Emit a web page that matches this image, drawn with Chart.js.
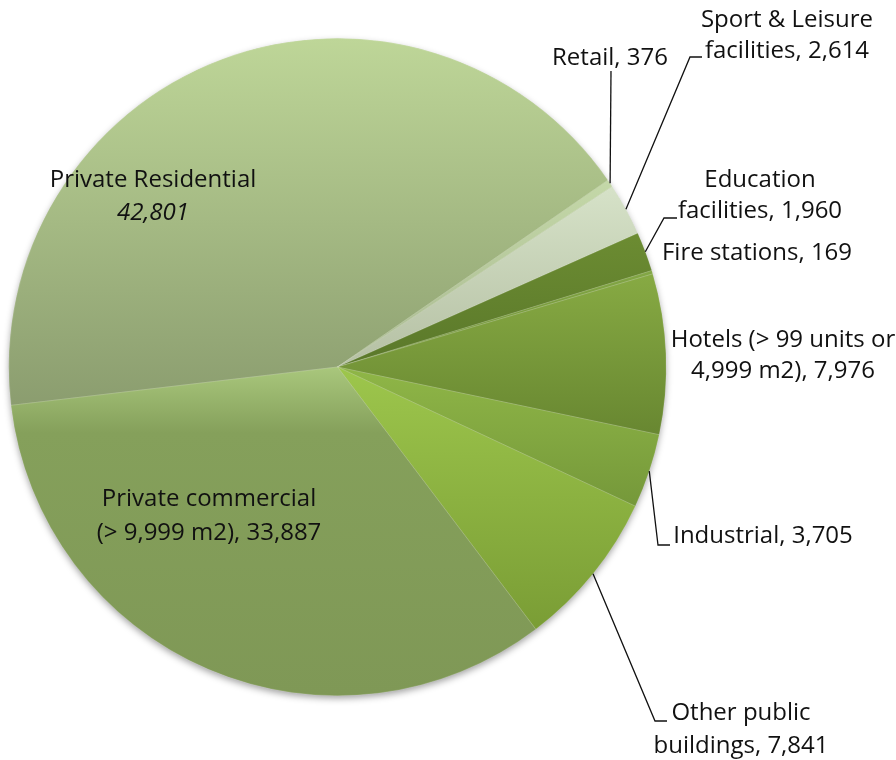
<!DOCTYPE html>
<html>
<head>
<meta charset="utf-8">
<script src="https://cdn.jsdelivr.net/npm/chart.js@4/dist/chart.umd.min.js"></script>
<style>
  html, body { margin: 0; padding: 0; background: #ffffff; }
  #wrap { width: 896px; height: 760px; }
</style>
</head>
<body>
<div id="wrap"><canvas id="chart" width="896" height="760"></canvas></div>
<script>
// Building floor area by type (values in m2, thousands)
const categories = [
  'Private Residential',
  'Retail',
  'Sport & Leisure facilities',
  'Education facilities',
  'Fire stations',
  'Hotels (> 99 units or 4,999 m2)',
  'Industrial',
  'Other public buildings',
  'Private commercial (> 9,999 m2)'
];
const floorArea = [42801, 376, 2614, 1960, 169, 7976, 3705, 7841, 33887];

// How each category name is broken over lines in its label
const nameLines = [
  ['Private Residential'],
  ['Retail'],
  ['Sport & Leisure', 'facilities'],
  ['Education', 'facilities'],
  ['Fire stations'],
  ['Hotels (> 99 units or', '4,999 m2)'],
  ['Industrial'],
  ['Other public', 'buildings'],
  ['Private commercial', '(> 9,999 m2)']
];

// Vertical gradient of each slice: [top colour, bottom colour]
const sliceTop    = ['#bed698', '#c4d8a8', '#d6e2c8', '#6c8c32', '#82a645', '#87aa43', '#8fb647', '#9dc64c', '#a9c77c'];
const sliceBottom = ['#8b9d6f', '#a9b991', '#b5c0a4', '#5a782a', '#6f9036', '#688731', '#75983a', '#7a9d35', '#7f9856'];

// Label placement: centre x, first baseline, line step, leader line points (pie end is added from the slice)
const labelLayout = [
  { x: 153, y: 187, step: 33, valueOwnLine: true },
  { x: 610, y: 65,  step: 31, leader: [[611, 71]] },
  { x: 787, y: 27,  step: 31, leader: [[690, 57], [702, 57]] },
  { x: 760, y: 187, step: 31, leader: [[664, 218], [677, 218]] },
  { x: 757, y: 260, step: 31 },
  { x: 783, y: 347, step: 31 },
  { x: 763, y: 543, step: 31, leader: [[658, 545], [670, 545]] },
  { x: 741, y: 720, step: 33, leader: [[655, 721], [667, 721]] },
  { x: 209, y: 506, step: 34 }
];

const FONT = '"Open Sans", "Noto Sans", sans-serif';
const FONT_SIZE = 24;
const fmt = v => v.toLocaleString('en-US');

// Soft drop shadow under the pie plus per-slice vertical gradients
const shadeSlices = {
  id: 'shadeSlices',
  beforeDatasetsDraw(chart) {
    const ctx = chart.ctx;
    const arcs = chart.getDatasetMeta(0).data;
    if (!arcs.length) return;
    const a0 = arcs[0];
    ctx.save();
    ctx.shadowColor = 'rgba(0,0,0,0.38)';
    ctx.shadowBlur = 7;
    ctx.shadowOffsetY = 3;
    ctx.shadowOffsetX = 0;
    ctx.fillStyle = '#8a9f60';
    ctx.beginPath();
    ctx.arc(a0.x, a0.y, a0.outerRadius - 0.5, 0, Math.PI * 2);
    ctx.fill();
    ctx.restore();

    arcs.forEach((arc, i) => {
      let yMin = arc.y, yMax = arc.y;
      const n = 60;
      for (let k = 0; k <= n; k++) {
        const t = arc.startAngle + (arc.endAngle - arc.startAngle) * k / n;
        const yy = arc.y + arc.outerRadius * Math.sin(t);
        yMin = Math.min(yMin, yy);
        yMax = Math.max(yMax, yy);
      }
      const g = ctx.createLinearGradient(0, yMin, 0, Math.max(yMax, yMin + 1));
      if (i === categories.length - 1) {
        g.addColorStop(0, sliceTop[i]);
        g.addColorStop(0.2, '#85a05b');
        g.addColorStop(1, sliceBottom[i]);
      } else {
        g.addColorStop(0, sliceTop[i]);
        g.addColorStop(1, sliceBottom[i]);
      }
      if (Object.isFrozen(arc.options)) arc.options = Object.assign({}, arc.options);
      arc.options.backgroundColor = g;
    });
  }
};

// Category labels and leader lines
const sliceLabels = {
  id: 'sliceLabels',
  afterDatasetsDraw(chart) {
    const ctx = chart.ctx;
    const arcs = chart.getDatasetMeta(0).data;
    ctx.save();
    ctx.fillStyle = '#111111';
    ctx.strokeStyle = '#111111';
    ctx.lineWidth = 1.3;
    ctx.textAlign = 'center';
    ctx.textBaseline = 'alphabetic';

    arcs.forEach((arc, i) => {
      const L = labelLayout[i];
      const value = fmt(floorArea[i]);
      const lines = nameLines[i].slice();
      let lastItalic = false;
      if (L.valueOwnLine) {
        lines.push(value);
        lastItalic = true;
      } else {
        lines[lines.length - 1] = lines[lines.length - 1] + ', ' + value;
      }
      lines.forEach((txt, k) => {
        const italic = lastItalic && k === lines.length - 1;
        ctx.font = (italic ? 'italic ' : '') + FONT_SIZE + 'px ' + FONT;
        ctx.fillText(txt, L.x, L.y + k * L.step);
      });

      if (L.leader) {
        const mid = (arc.startAngle + arc.endAngle) / 2;
        const px = arc.x + arc.outerRadius * Math.cos(mid);
        const py = arc.y + arc.outerRadius * Math.sin(mid);
        ctx.beginPath();
        ctx.moveTo(px, py);
        L.leader.forEach(p => ctx.lineTo(p[0], p[1]));
        ctx.stroke();
      }
    });
    ctx.restore();
  }
};

new Chart(document.getElementById('chart'), {
  type: 'pie',
  data: {
    labels: categories,
    datasets: [{
      data: floorArea,
      backgroundColor: sliceTop,
      borderWidth: 0.6,
      borderColor: 'rgba(255,255,255,0.25)'
    }]
  },
  options: {
    responsive: false,
    animation: false,
    devicePixelRatio: 1,
    rotation: 263.3,
    layout: { padding: { left: 8, top: 38, right: 229, bottom: 64 } },
    plugins: {
      legend: { display: false },
      tooltip: { enabled: false },
      title: { display: false }
    }
  },
  plugins: [shadeSlices, sliceLabels]
});
</script>
</body>
</html>
